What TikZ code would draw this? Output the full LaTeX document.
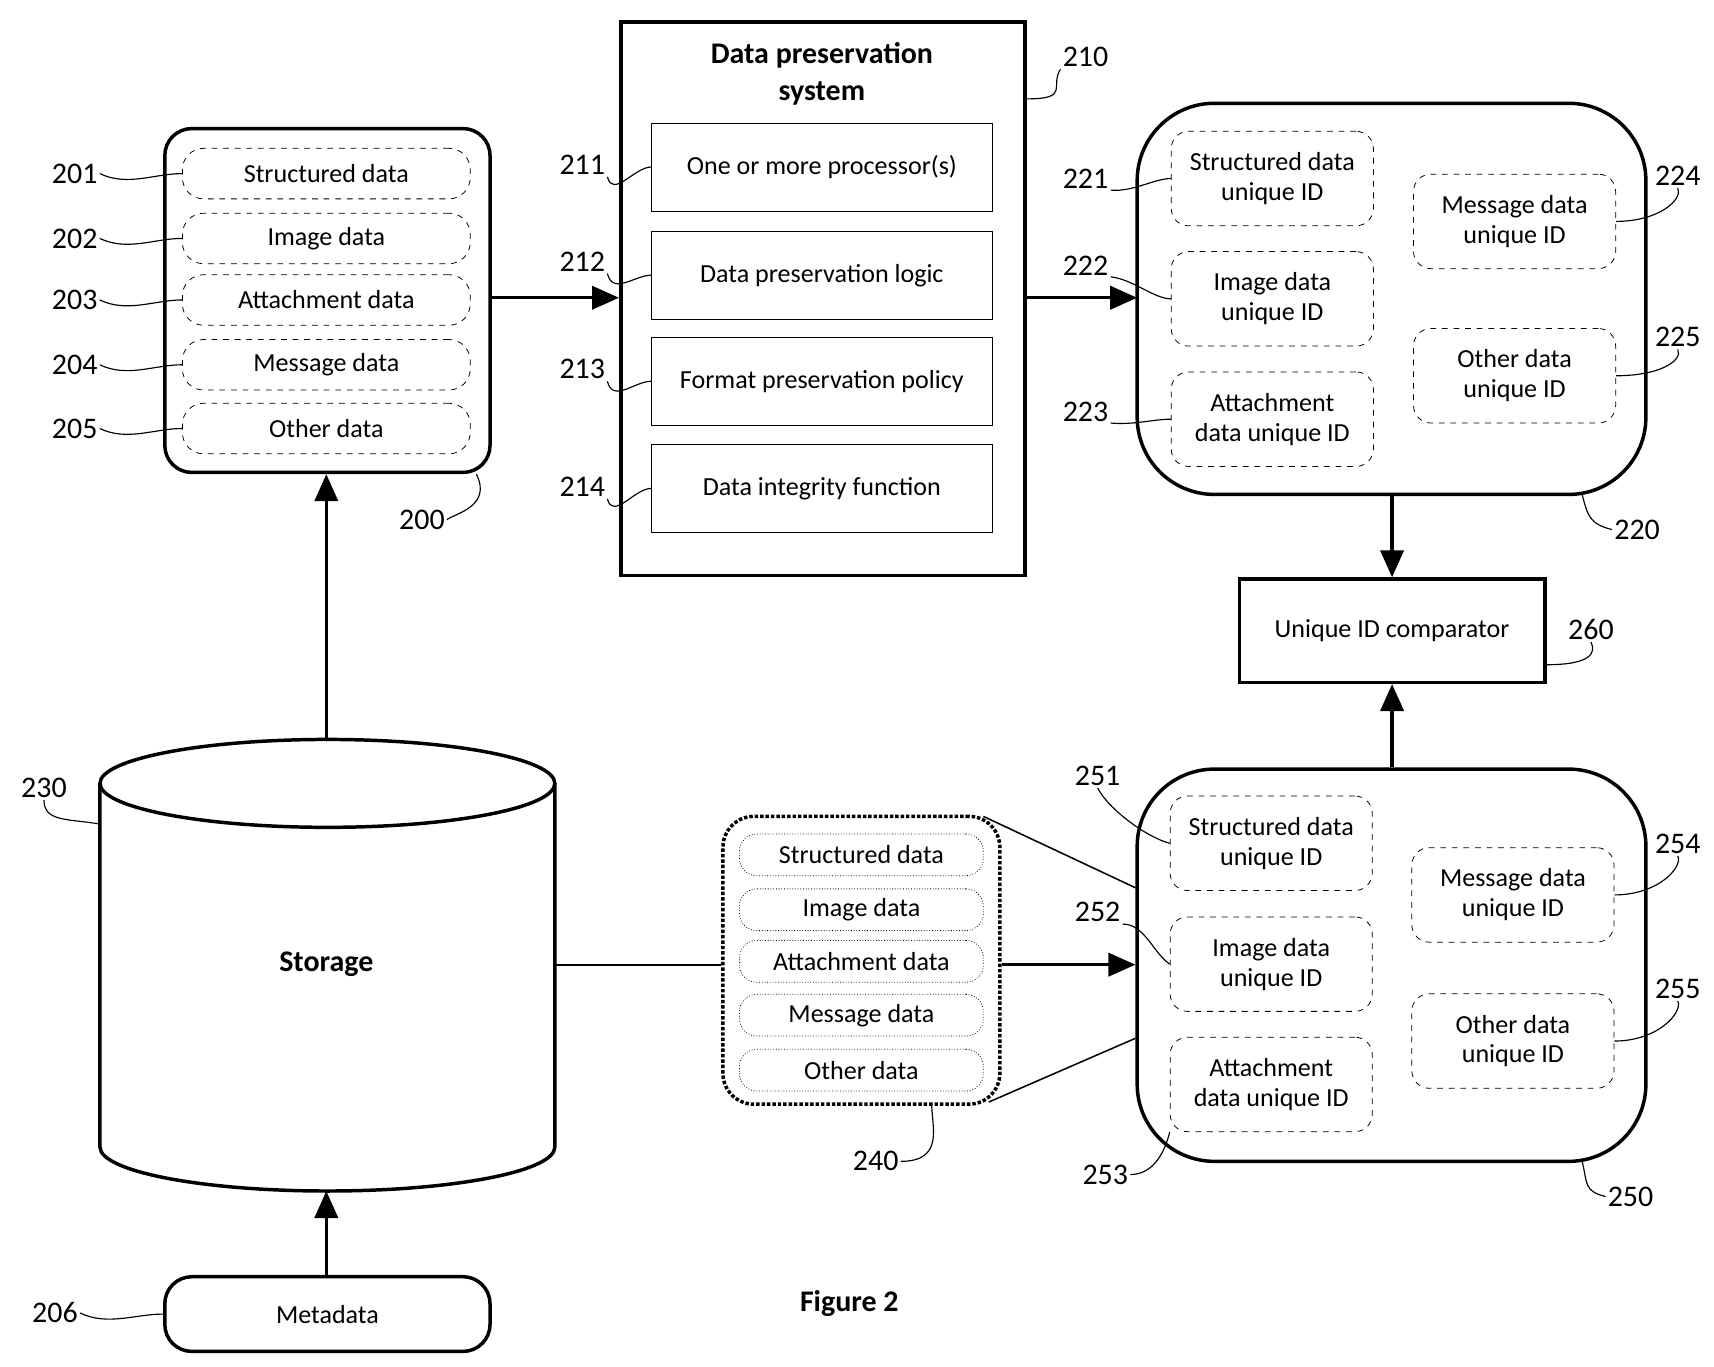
\documentclass[tikz,border=0pt]{standalone}
\usepackage{fontspec}
\setmainfont{Carlito}
\usetikzlibrary{arrows.meta}
\begin{document}
\begin{tikzpicture}[x=0.02cm,y=-0.02cm,
  font=\fontsize{13.5}{15.5}\selectfont,
  thickbox/.style={draw,line width=1.8pt},
  pill/.style={draw,dashed,rounded corners=11pt,minimum width=262*0.02cm,minimum height=46*0.02cm,inner sep=0pt},
  dpill/.style={draw,densely dotted,rounded corners=9pt,minimum width=222*0.02cm,minimum height=38*0.02cm,inner sep=0pt},
  idbox/.style={draw,dashed,rounded corners=9pt,minimum width=184*0.02cm,minimum height=86*0.02cm,inner sep=0pt,align=center},
  sub/.style={draw,minimum width=310*0.02cm,minimum height=80*0.02cm,inner sep=0pt},
  num/.style={font=\fontsize{15.5}{17}\selectfont,inner sep=1pt},
  lead/.style={line width=0.6pt},
  arr/.style={line width=1.8pt,-{Triangle[length=14pt,width=12pt]}}]
\useasboundingbox (0,0) rectangle (1560,1244);
% box 200
\node[thickbox,rounded corners=14pt,minimum width=296*0.02cm,minimum height=313*0.02cm] (b200) at (298,273.5) {};
\node[pill] (p201) at (297,158) {Structured data};
\node[pill] (p202) at (297,217) {Image data};
\node[pill] (p203) at (297,273) {Attachment data};
\node[pill] (p204) at (297,332) {Message data};
\node[pill] (p205) at (297,390) {Other data};
\foreach \n/\y in {201/158,202/217,203/273,204/332,205/390}{
  \node[num] (l\n) at (68,\y) {\n};
  \draw[lead] (l\n.east) .. controls +(25,12) and +(-25,0) .. (p\n.west);}
\node[num] (l200) at (384,473) {200};
\draw[lead] (b200.south east) ++(-14,0) coordinate (c200) .. controls +(15,30) and +(5,-5) .. (l200.east);
% box 210
\node[thickbox,minimum width=368*0.02cm,minimum height=504*0.02cm] (b210) at (749,272) {};
\node[font=\fontsize{15.5}{19}\selectfont\bfseries,align=center] (t210) at (748,67) {Data preservation\\system};
\node[sub] (s211) at (748,152) {One or more processor(s)};
\node[sub] (s212) at (748,250.5) {Data preservation logic};
\node[sub] (s213) at (748,347) {Format preservation policy};
\node[sub] (s214) at (748,444.5) {Data integrity function};
\foreach \n/\y in {211/150,212/238,213/336,214/443}{
  \node[num] (l\n) at (530,\y) {\n};
  \draw[lead] (l\n.south east) .. controls +(5,20) and +(-15,0) .. (s\n.west);}
\node[num] (l210) at (988,52) {210};
\draw[lead] (b210.east |- 0,90) coordinate (c210) .. controls +(40,0) and +(-10,15) .. (l210.south west);
% arrows
\draw[arr] (b200.east |- 0,271) -- (b210.west |- 0,271);
\coordinate (a220) at (1035,271);
\draw[arr] (b210.east |- 0,271) -- (a220);
% box 220
\node[thickbox,rounded corners=40pt,minimum width=463*0.02cm,minimum height=356*0.02cm] (b220) at (1266.5,272) {};
\node[idbox] (i221) at (1158,162.5) {Structured data\\unique ID};
\node[idbox] (i222) at (1158,272) {Image data\\unique ID};
\node[idbox] (i223) at (1158,381.5) {Attachment\\data unique ID};
\node[idbox] (i224) at (1378.5,201.5) {Message data\\unique ID};
\node[idbox] (i225) at (1378.5,342) {Other data\\unique ID};
\foreach \n/\y in {221/163,222/242,223/375}{
  \node[num] (l\n) at (988,\y) {\n};
  \draw[lead] (l\n.east) ++(0,10) .. controls +(20,2) and +(-15,0) .. (i\n.west);}
\foreach \n/\y in {224/160,225/307}{
  \node[num] (l\n) at (1527,\y) {\n};
  \draw[lead] (i\n.east) .. controls +(40,0) and +(5,10) .. (l\n.south);}
\node[num] (l220) at (1490,482) {220};
\draw[lead] (1440,450) .. controls +(5,20) and +(-20,-5) .. (l220.west);
% box 260
\node[thickbox,minimum width=278*0.02cm,minimum height=94*0.02cm] (b260) at (1267,574) {Unique ID comparator};
\node[num] (l260) at (1448,573) {260};
\draw[lead] (b260.east |- 0,605) .. controls +(40,0) and +(5,10) .. (l260.south);
\draw[arr] (b220.south -| b260.north) -- (b260.north);
% box 250
\node[thickbox,rounded corners=40pt,minimum width=463*0.02cm,minimum height=357*0.02cm] (b250) at (1266.5,878.5) {};
\draw[arr] (b250.north -| b260.south) -- (b260.south);
\node[idbox] (i251) at (1157,767.5) {Structured data\\unique ID};
\node[idbox] (i252) at (1157,877.5) {Image data\\unique ID};
\node[idbox] (i253) at (1157,987) {Attachment\\data unique ID};
\node[idbox] (i254) at (1377,814.5) {Message data\\unique ID};
\node[idbox] (i255) at (1377,947.5) {Other data\\unique ID};
\node[num] (l251) at (999,706) {251};
\draw[lead] (l251.south) .. controls +(10,20) and +(-20,-5) .. (i251.west);
\node[num] (l252) at (999,830) {252};
\draw[lead] (l252.south east) .. controls +(20,0) and +(-15,-10) .. (i252.west);
\node[num] (l253) at (1006,1069) {253};
\draw[lead] (l253.east) .. controls +(20,0) and +(-5,20) .. (i253.south west);
\foreach \n/\y in {254/768,255/900}{
  \node[num] (l\n) at (1527,\y) {\n};
  \draw[lead] (i\n.east) .. controls +(40,0) and +(5,10) .. (l\n.south);}
\node[num] (l250) at (1484,1089) {250};
\draw[lead] (1440,1057) .. controls +(5,20) and +(-20,-5) .. (l250.west);
% storage cylinder
\draw[line width=1.8pt] (91,713) -- (91,1044) arc[start angle=180,end angle=0,x radius=207,y radius=40] -- (505,713);
\draw[line width=1.8pt] (298,713) ellipse[x radius=207,y radius=40];
\node[font=\fontsize{15.5}{17}\selectfont\bfseries] (st) at (297,878) {Storage};
\coordinate (cyltop) at (297,673);
\coordinate (cylbot) at (297,1084);
\coordinate (cylr) at (505,878);
\draw[arr] (cyltop) -- (b200.south -| cyltop);
\node[num] (l230) at (40,717) {230};
\draw[lead] (l230.south) .. controls +(0,20) and +(-30,-5) .. (91,750);
% metadata
\node[thickbox,rounded corners=14pt,minimum width=296*0.02cm,minimum height=68*0.02cm] (meta) at (298,1196) {Metadata};
\draw[arr] (meta.north -| cylbot) -- (cylbot);
\node[num] (l206) at (50,1195) {206};
\draw[lead] (l206.east) .. controls +(25,12) and +(-25,0) .. (meta.west);
% box 240
\node[draw,densely dotted,line width=1.8pt,rounded corners=16pt,minimum width=252*0.02cm,minimum height=262*0.02cm] (b240) at (784,874) {};
\node[dpill] (q1) at (784,778) {Structured data};
\node[dpill] (q2) at (784,828) {Image data};
\node[dpill] (q3) at (784,875) {Attachment data};
\node[dpill] (q4) at (784,924) {Message data};
\node[dpill] (q5) at (784,974) {Other data};
\draw[line width=1.2pt] (cylr) -- (b240.west |- cylr);
\draw[arr] (b240.east |- cylr) -- (b250.west |- cylr);
\draw[line width=0.8pt] (895,743) -- (b250.west |- 0,808);
\draw[line width=0.8pt] (900,1003) -- (b250.west |- 0,945);
\node[num] (l240) at (797,1057) {240};
\draw[lead] (l240.east) .. controls +(40,0) and +(0,20) .. (848,1005);
\node[font=\fontsize{15.5}{17}\selectfont\bfseries] (fig) at (773,1186) {Figure 2};
\end{tikzpicture}
\end{document}
